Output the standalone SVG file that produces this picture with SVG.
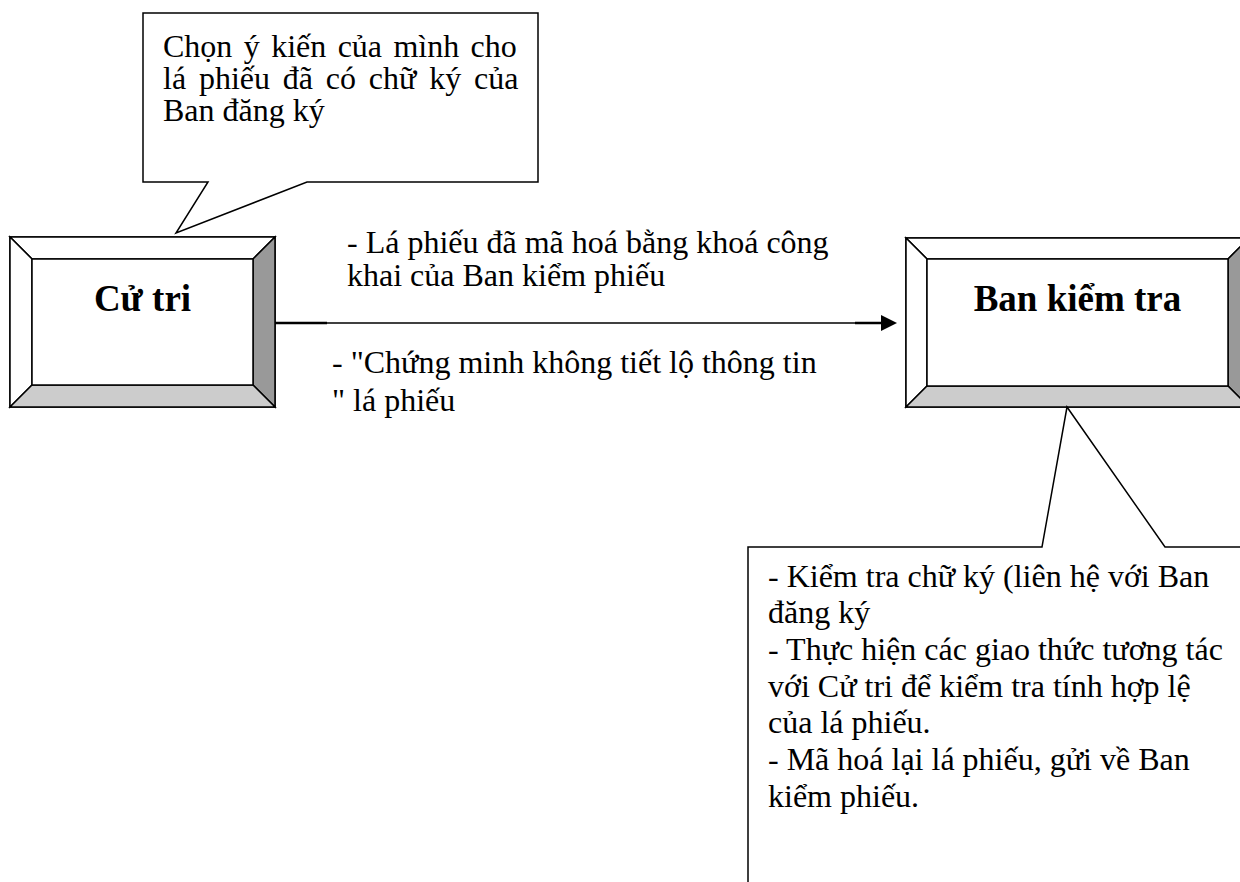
<svg xmlns="http://www.w3.org/2000/svg" width="1240" height="882" viewBox="0 0 1240 882">
<style>
.ln{stroke:#000;stroke-width:1.5;stroke-linejoin:miter}
.w{fill:#fff}
.g1{fill:#999999}
.g2{fill:#cccccc}
.t{font-family:"Liberation Serif","Times New Roman",serif;font-size:32px;fill:#000}
.b{font-family:"Liberation Serif","Times New Roman",serif;font-size:37px;font-weight:bold;fill:#000;text-anchor:middle}
</style>
<rect width="1240" height="882" fill="#fff"/>
<g id="callout-chon">
<path class="ln w" d="M143,13 H538 V182 H307 L176,233 L208,182 H143 Z"/>
<text class="t"><tspan x="163" y="57" word-spacing="3.4">Chọn ý kiến của mình cho</tspan><tspan x="163" y="89" word-spacing="4.8">lá phiếu đã có chữ ký của</tspan><tspan x="163" y="121">Ban đăng ký</tspan></text>
</g>
<g id="node-cu-tri">
<rect class="ln w" x="10" y="237" width="265" height="170"/>
<polygon class="ln w" points="10,237 275,237 253,259 32,259"/>
<polygon class="ln w" points="10,237 32,259 32,385 10,407"/>
<polygon class="ln g1" points="275,237 275,407 253,385 253,259"/>
<polygon class="ln g2" points="10,407 32,385 253,385 275,407"/>
<rect class="ln w" x="32" y="259" width="221" height="126"/>
<text class="b" x="142.5" y="311">Cử tri</text>
</g>
<g id="node-ban-kiem-tra">
<rect class="ln w" x="906" y="238" width="343" height="169"/>
<polygon class="ln w" points="906,238 1249,238 1228,259 927,259"/>
<polygon class="ln w" points="906,238 927,259 927,386 906,407"/>
<polygon class="ln g1" points="1249,238 1249,407 1228,386 1228,259"/>
<polygon class="ln g2" points="906,407 927,386 1228,386 1249,407"/>
<rect class="ln w" x="927" y="259" width="301" height="127"/>
<text class="b" x="1077.5" y="311">Ban kiểm tra</text>
</g>
<g id="callout-kiem-tra">
<path class="ln w" d="M748,547 H1042 L1067,407 L1165,547 H1250 V890 H748 Z"/>
<text class="t" x="768" y="587">- Kiểm tra chữ ký (liên hệ với Ban</text>
<text class="t" x="768" y="623">đăng ký</text>
<text class="t" x="768" y="660">- Thực hiện các giao thức tương tác</text>
<text class="t" x="768" y="697">với Cử tri để kiểm tra tính hợp lệ</text>
<text class="t" x="768" y="733">của lá phiếu.</text>
<text class="t" x="768" y="770">- Mã hoá lại lá phiếu, gửi về Ban</text>
<text class="t" x="768" y="807">kiểm phiếu.</text>
</g>
<g id="connectors">
<line x1="275" y1="323" x2="327" y2="323" stroke="#000" stroke-width="2.5"/>
<line x1="327" y1="323" x2="855" y2="323" stroke="#000" stroke-width="1.3"/>
<line x1="855" y1="323" x2="883" y2="323" stroke="#000" stroke-width="2.5"/>
<polygon points="881,315 897,323 881,331" fill="#000"/>
<text class="t" x="347" y="253">- Lá phiếu đã mã hoá bằng khoá công</text>
<text class="t" x="347" y="286">khai của Ban kiểm phiếu</text>
<text class="t" x="332" y="373">- "Chứng minh không tiết lộ thông tin</text>
<text class="t" x="332" y="411">" lá phiếu</text>
</g>
</svg>
